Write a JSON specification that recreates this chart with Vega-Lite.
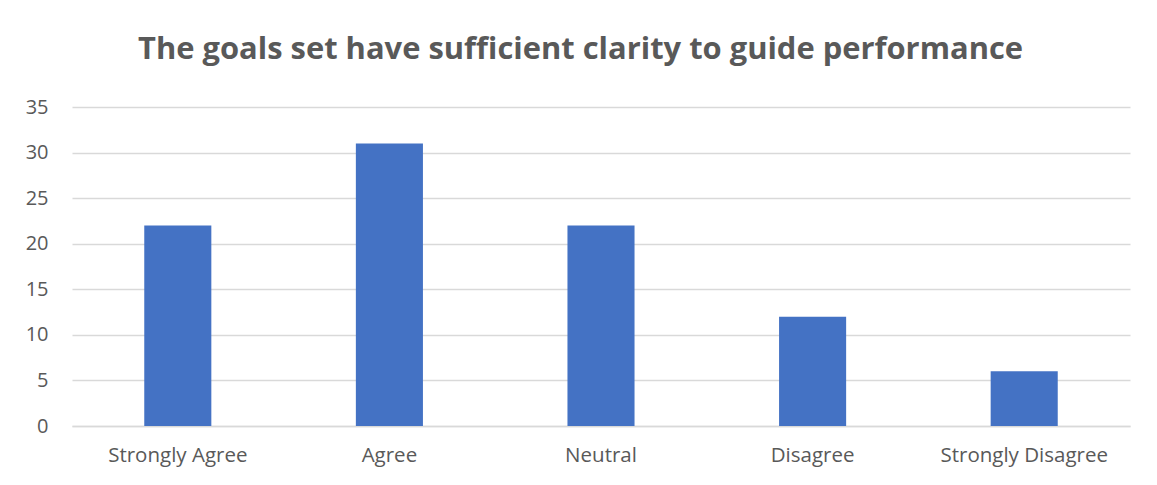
{
  "$schema": "https://vega.github.io/schema/vega-lite/v6.json",
  "width": 1058,
  "height": 319,
  "autosize": {"type": "none"},
  "padding": {"left": 72, "top": 107, "right": 27, "bottom": 59},
  "background": "#ffffff",
  "title": {
    "text": "The goals set have sufficient clarity to guide performance",
    "anchor": "middle",
    "frame": "bounds",
    "font": "Open Sans",
    "fontSize": 30.9,
    "fontWeight": "bold",
    "color": "#595959",
    "offset": 31,
    "dx": 3
  },
  "data": {
    "values": [
      {"response": "Strongly Agree", "count": 22},
      {"response": "Agree", "count": 31},
      {"response": "Neutral", "count": 22},
      {"response": "Disagree", "count": 12},
      {"response": "Strongly Disagree", "count": 6}
    ]
  },
  "mark": {"type": "bar", "color": "#4472C4"},
  "encoding": {
    "x": {
      "field": "response",
      "type": "nominal",
      "sort": null,
      "scale": {"paddingInner": 0.683, "paddingOuter": 0.3415},
      "axis": {
        "title": null,
        "labelAngle": 0,
        "ticks": false,
        "domain": true,
        "domainColor": "#d9d9d9",
        "domainWidth": 1.3,
        "labelFont": "Open Sans",
        "labelFontSize": 20.5,
        "labelColor": "#595959",
        "labelPadding": 19
      }
    },
    "y": {
      "field": "count",
      "type": "quantitative",
      "scale": {"domain": [0, 35]},
      "axis": {
        "title": null,
        "values": [0, 5, 10, 15, 20, 25, 30, 35],
        "ticks": false,
        "domain": false,
        "grid": true,
        "gridColor": "#d9d9d9",
        "gridWidth": 1.3,
        "labelFont": "Open Sans",
        "labelFontSize": 20,
        "labelColor": "#595959",
        "labelPadding": 24
      }
    }
  },
  "config": {"view": {"stroke": null}}
}
